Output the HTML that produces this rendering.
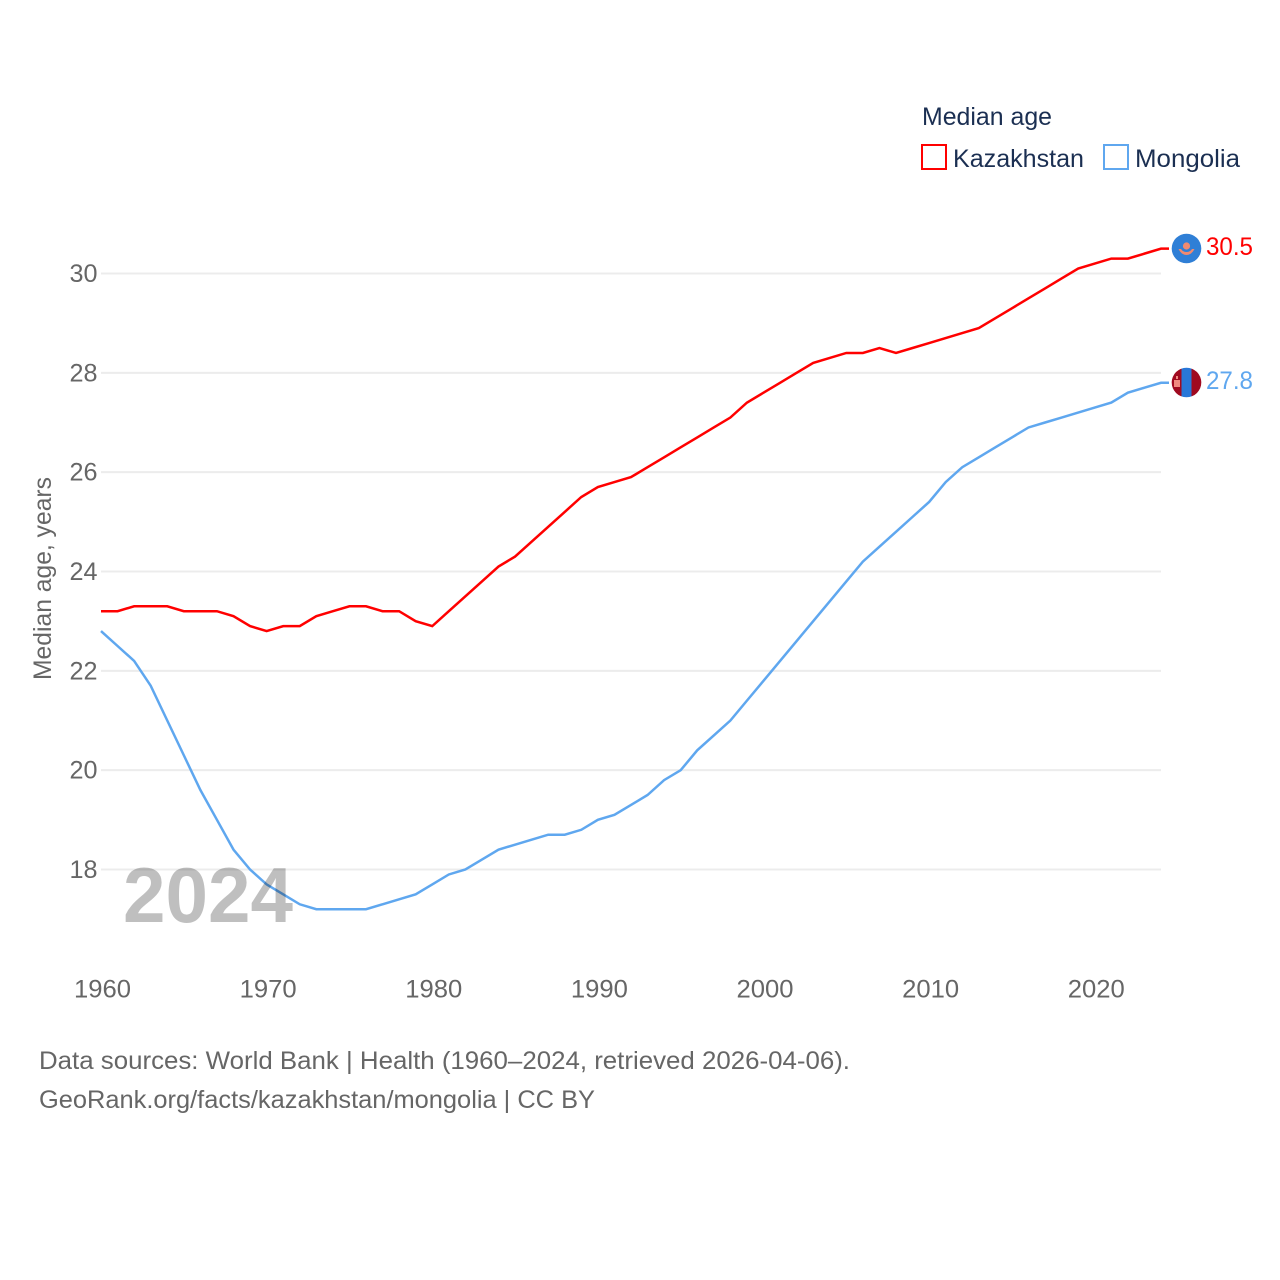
<!DOCTYPE html>
<html lang="en">
<head>
<meta charset="utf-8">
<title>Median age: Kazakhstan and Mongolia</title>
<style>
html,body{margin:0;padding:0;background:#fff;width:1280px;height:1280px;overflow:hidden}
svg{display:block}
text{font-family:"Liberation Sans",sans-serif}
</style>
</head>
<body>
<svg id="chart" width="1280" height="1280" viewBox="0 0 1280 1280" xmlns="http://www.w3.org/2000/svg">
  <rect width="1280" height="1280" fill="#fff"/>
  <g id="grid"></g>
  <g id="yticks"></g>
  <g id="xticks"></g>
  <text transform="translate(51,680) rotate(-90)" font-size="25" fill="#666" textLength="203" lengthAdjust="spacingAndGlyphs">Median age, years</text>
  <g id="lines"></g>
  <text x="123" y="922" font-size="78" font-weight="700" fill="#000" fill-opacity="0.25" textLength="170" lengthAdjust="spacingAndGlyphs">2024</text>

  <g id="flag-kz">
    <circle cx="1186.5" cy="248.5" r="14.8" fill="#2f7fd6"/>
    <circle cx="1186.5" cy="246" r="3.6" fill="#f08a70"/>
    <path d="M1178.500 249 q3 6 8 6 q5 0 8 -6 l-2.500 0 q-2 3 -5.500 3 q-3.500 0 -5.500 -3z" fill="#f08a70"/>
  </g>
  <g id="flag-mn">
    <clipPath id="mn-clip"><circle cx="1186.5" cy="382.500" r="14.800"/></clipPath>
    <g clip-path="url(#mn-clip)">
      <rect x="1171" y="367" width="10.500" height="31" fill="#a00a20"/>
      <rect x="1181.500" y="367" width="10" height="31" fill="#2877d8"/>
      <rect x="1191.500" y="367" width="11" height="31" fill="#a00a20"/>
      <rect x="1174" y="380" width="6" height="7" fill="#f08a80"/>
      <rect x="1176" y="376" width="2" height="3" fill="#f08a80"/>
    </g>
  </g>

  <text id="val-kz" x="1206" y="255" font-size="25" fill="#ff0000" textLength="47" lengthAdjust="spacingAndGlyphs">30.5</text>
  <text id="val-mn" x="1206" y="389" font-size="25" fill="#5fa7ef" textLength="47" lengthAdjust="spacingAndGlyphs">27.8</text>

  <g>
    <text x="922" y="125" font-size="25" fill="#1b2f52" textLength="130" lengthAdjust="spacingAndGlyphs">Median age</text>
    <rect x="922" y="145" width="24" height="24" fill="none" stroke="#ff0000" stroke-width="2"/>
    <text x="953" y="167" font-size="25" fill="#1b2f52" textLength="131" lengthAdjust="spacingAndGlyphs">Kazakhstan</text>
    <rect x="1104" y="145" width="24" height="24" fill="none" stroke="#5fa7ef" stroke-width="2"/>
    <text x="1135" y="167" font-size="25" fill="#1b2f52" textLength="105" lengthAdjust="spacingAndGlyphs">Mongolia</text>
  </g>

  <g>
    <text x="39" y="1069" font-size="25" fill="#666" textLength="811" lengthAdjust="spacingAndGlyphs">Data sources: World Bank | Health (1960–2024, retrieved 2026-04-06).</text>
    <text x="39" y="1108" font-size="25" fill="#666" textLength="556" lengthAdjust="spacingAndGlyphs">GeoRank.org/facts/kazakhstan/mongolia | CC BY</text>
  </g>
</svg>
<script>
const years = [1960,1961,1962,1963,1964,1965,1966,1967,1968,1969,1970,1971,1972,1973,1974,1975,1976,1977,1978,1979,1980,1981,1982,1983,1984,1985,1986,1987,1988,1989,1990,1991,1992,1993,1994,1995,1996,1997,1998,1999,2000,2001,2002,2003,2004,2005,2006,2007,2008,2009,2010,2011,2012,2013,2014,2015,2016,2017,2018,2019,2020,2021,2022,2023,2024];
const kazakhstan = [23.2,23.2,23.3,23.3,23.3,23.2,23.2,23.2,23.1,22.9,22.8,22.9,22.9,23.1,23.2,23.3,23.3,23.2,23.2,23.0,22.9,23.2,23.5,23.8,24.1,24.3,24.6,24.9,25.2,25.5,25.7,25.8,25.9,26.1,26.3,26.5,26.7,26.9,27.1,27.4,27.6,27.8,28.0,28.2,28.3,28.4,28.4,28.5,28.4,28.5,28.6,28.7,28.8,28.9,29.1,29.3,29.5,29.7,29.9,30.1,30.2,30.3,30.3,30.4,30.5];
const mongolia = [22.8,22.5,22.2,21.7,21.0,20.3,19.6,19.0,18.4,18.0,17.7,17.5,17.3,17.2,17.2,17.2,17.2,17.3,17.4,17.5,17.7,17.9,18.0,18.2,18.4,18.5,18.6,18.7,18.7,18.8,19.0,19.1,19.3,19.5,19.8,20.0,20.4,20.7,21.0,21.4,21.8,22.2,22.6,23.0,23.4,23.8,24.2,24.5,24.8,25.1,25.4,25.8,26.1,26.3,26.5,26.7,26.9,27.0,27.1,27.2,27.3,27.4,27.6,27.7,27.8];
const yTickValues = [18,20,22,24,26,28,30];
const xTickValues = [1960,1970,1980,1990,2000,2010,2020];

const NS = 'http://www.w3.org/2000/svg';
const xScale = function (year) { return 101 + (year - 1960) * (1161 - 101) / 64; };
const yScale = function (v) { return 869.5 - (v - 18) * (869.5 - 273.5) / 12; };

const grid = document.getElementById('grid');
const yticks = document.getElementById('yticks');
const xticks = document.getElementById('xticks');
const lines = document.getElementById('lines');

yTickValues.forEach(function (v) {
  const ln = document.createElementNS(NS, 'line');
  
  
  ln.setAttribute('x1', xScale(1960));
  ln.setAttribute('x2', xScale(2024));
  ln.setAttribute('y1', yScale(v));
  ln.setAttribute('y2', yScale(v));
  ln.setAttribute('stroke', '#ececec');
  ln.setAttribute('stroke-width', '2');
  grid.appendChild(ln);

  const t = document.createElementNS(NS, 'text');
  
  
  t.setAttribute('x', 69.5);
  t.setAttribute('y', yScale(v) + 8.5);
  t.setAttribute('font-size', '25');
  t.setAttribute('fill', '#666');
  t.setAttribute('textLength', '28');
  t.setAttribute('lengthAdjust', 'spacingAndGlyphs');
  t.textContent = String(v);
  yticks.appendChild(t);
});

xTickValues.forEach(function (y) {
  const t = document.createElementNS(NS, 'text');
  
  
  t.setAttribute('x', xScale(y) - 27);
  t.setAttribute('y', 997.5);
  t.setAttribute('font-size', '25');
  t.setAttribute('fill', '#666');
  t.setAttribute('textLength', '57');
  t.setAttribute('lengthAdjust', 'spacingAndGlyphs');
  t.textContent = String(y);
  xticks.appendChild(t);
});

function linePath(values) {
  let d = values.map(function (v, i) {
    return (i ? 'L' : 'M') + xScale(years[i]).toFixed(2) + ' ' + yScale(v).toFixed(2);
  }).join(' ');
  d += ' h8';
  return d;
}

const mongoliaLine = document.createElementNS(NS, 'path');


mongoliaLine.setAttribute('d', linePath(mongolia));
mongoliaLine.setAttribute('fill', 'none');
mongoliaLine.setAttribute('stroke', '#5fa7ef');
mongoliaLine.setAttribute('stroke-width', '2.5');
lines.appendChild(mongoliaLine);

const kazakhstanLine = document.createElementNS(NS, 'path');


kazakhstanLine.setAttribute('d', linePath(kazakhstan));
kazakhstanLine.setAttribute('fill', 'none');
kazakhstanLine.setAttribute('stroke', '#ff0000');
kazakhstanLine.setAttribute('stroke-width', '2.5');
lines.appendChild(kazakhstanLine);
</script>
</body>
</html>
